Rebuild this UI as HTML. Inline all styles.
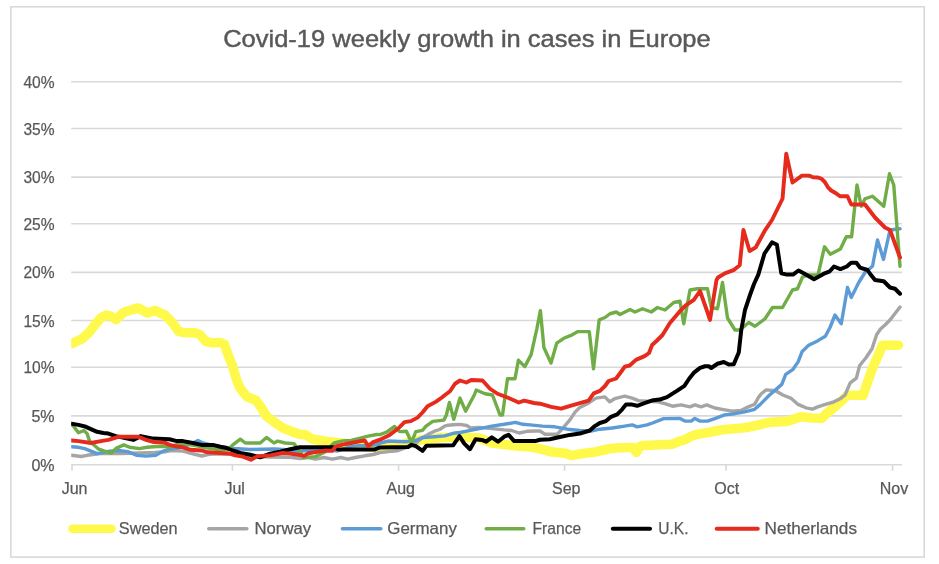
<!DOCTYPE html>
<html><head><meta charset="utf-8"><style>
html,body{margin:0;padding:0;background:#fff;width:939px;height:564px;overflow:hidden}
svg{display:block}
text{font-family:"Liberation Sans",sans-serif;fill:#595959;stroke:#595959;stroke-width:0.25px}
</style></head><body>
<svg width="939" height="564" viewBox="0 0 939 564">
<defs><filter id="b" x="-5%" y="-5%" width="110%" height="110%"><feGaussianBlur stdDeviation="0.75"/></filter></defs>
<rect x="0" y="0" width="939" height="564" fill="#fff"/>
<g filter="url(#b)">
<rect x="10.8" y="6.8" width="913.4" height="550.3" fill="#fff" stroke="#d9d9d9" stroke-width="1.6"/>
<text style="stroke-width:0.45px" x="223.2" y="47.2" font-size="24.5" textLength="487.5" lengthAdjust="spacingAndGlyphs">Covid-19 weekly growth in cases in Europe</text>
<g font-size="16.5">
<text x="54.6" y="470.80" text-anchor="end" textLength="23.2" lengthAdjust="spacingAndGlyphs">0%</text>
<text x="54.6" y="421.90" text-anchor="end" textLength="23.2" lengthAdjust="spacingAndGlyphs">5%</text>
<text x="54.6" y="373.20" text-anchor="end" textLength="31.2" lengthAdjust="spacingAndGlyphs">10%</text>
<text x="54.6" y="326.50" text-anchor="end" textLength="31.2" lengthAdjust="spacingAndGlyphs">15%</text>
<text x="54.6" y="278.40" text-anchor="end" textLength="31.2" lengthAdjust="spacingAndGlyphs">20%</text>
<text x="54.6" y="229.70" text-anchor="end" textLength="31.2" lengthAdjust="spacingAndGlyphs">25%</text>
<text x="54.6" y="183.10" text-anchor="end" textLength="31.2" lengthAdjust="spacingAndGlyphs">30%</text>
<text x="54.6" y="134.50" text-anchor="end" textLength="31.2" lengthAdjust="spacingAndGlyphs">35%</text>
<text x="54.6" y="87.70" text-anchor="end" textLength="31.2" lengthAdjust="spacingAndGlyphs">40%</text>
</g>
<g font-size="16">
<text x="74.6" y="493.9" text-anchor="middle">Jun</text>
<text x="234.7" y="493.9" text-anchor="middle">Jul</text>
<text x="400.7" y="493.9" text-anchor="middle">Aug</text>
<text x="566.2" y="493.9" text-anchor="middle">Sep</text>
<text x="726.7" y="493.9" text-anchor="middle">Oct</text>
<text x="894" y="493.9" text-anchor="middle">Nov</text>
</g>
<line x1="71.2" x2="902" y1="415.90" y2="415.90" stroke="#d9d9d9" stroke-width="1.6"/>
<line x1="71.2" x2="902" y1="367.20" y2="367.20" stroke="#d9d9d9" stroke-width="1.6"/>
<line x1="71.2" x2="902" y1="320.50" y2="320.50" stroke="#d9d9d9" stroke-width="1.6"/>
<line x1="71.2" x2="902" y1="272.40" y2="272.40" stroke="#d9d9d9" stroke-width="1.6"/>
<line x1="71.2" x2="902" y1="223.70" y2="223.70" stroke="#d9d9d9" stroke-width="1.6"/>
<line x1="71.2" x2="902" y1="177.10" y2="177.10" stroke="#d9d9d9" stroke-width="1.6"/>
<line x1="71.2" x2="902" y1="128.50" y2="128.50" stroke="#d9d9d9" stroke-width="1.6"/>
<line x1="71.2" x2="902" y1="81.70" y2="81.70" stroke="#d9d9d9" stroke-width="1.6"/>
<line x1="71.2" x2="902" y1="464.8" y2="464.8" stroke="#d9d9d9" stroke-width="1.6"/>
<line x1="72.0" x2="72.0" y1="464.8" y2="470.8" stroke="#d9d9d9" stroke-width="1.6"/>
<line x1="232.4" x2="232.4" y1="464.8" y2="470.8" stroke="#d9d9d9" stroke-width="1.6"/>
<line x1="398.6" x2="398.6" y1="464.8" y2="470.8" stroke="#d9d9d9" stroke-width="1.6"/>
<line x1="564.6" x2="564.6" y1="464.8" y2="470.8" stroke="#d9d9d9" stroke-width="1.6"/>
<line x1="726.0" x2="726.0" y1="464.8" y2="470.8" stroke="#d9d9d9" stroke-width="1.6"/>
<line x1="892.6" x2="892.6" y1="464.8" y2="470.8" stroke="#d9d9d9" stroke-width="1.6"/>

<clipPath id="pc"><rect x="71.2" y="60" width="860" height="420"/></clipPath>
<g clip-path="url(#pc)">
<polyline points="71,344 82,338.8 89.4,332.2 95.8,323.7 101.1,317.8 106.4,315.1 111,316.25 116,319.5 123.5,312.5 131,310 138.5,308 147.25,313 154.75,310.5 164.75,315 170,320 174.3,325.2 178.5,331.2 182.8,332.5 195.6,332.9 199.8,334.6 205.8,341.4 210.9,342.7 221.1,342.7 224.5,344.5 227.4,353 232.7,366.6 236.3,379 239.8,387.8 246.9,396.7 255.8,400.2 261.1,407.3 266.4,416.2 273.5,421.5 282.3,427.7 291.2,431.2 300,434.5 305,434.5 312,439 324,441 336,442.5 345,443.5 360,445.5 372,447.5 385,447.5 396,447 410,442 420,440 430,439 442,437.5 460,437 479,438 492,443 504,444.5 517,446 530,447 540,448.8 552,452 565.5,453.3 571.5,455.6 582.6,453.5 595,452 608,449 616,448 630,447.5 633,447.5 636.5,452.3 639,447 642.6,445.5 655,445 665,444.5 672,444.2 678.8,441.5 685.2,439.7 690,436.8 696,434.6 711,432 722,429.8 745,427.7 754,426 770,422.2 787,421.4 801,416.7 812,418 822,418.2 826,414 832,409 837.8,404 842.4,400 847.1,395.3 863,395.3 868,381 873,366.8 878,356 882.5,345.2 898.5,345.2" fill="none" stroke="#fff94c" stroke-width="9.6" stroke-linejoin="round" stroke-linecap="round"/>
<polyline points="71.6,455.3 81,456.5 87.2,455.3 100,453.5 120,453.5 140.8,453 155,452.5 165.7,451.7 171.9,450.5 183,451.1 192,453.5 201.7,456 208,454.5 215,453.8 230,454.2 250,456.5 270,457 290.2,457.3 300,458.5 308.5,457.5 315.3,459.2 323.9,457.5 332.4,459.2 340.9,457.5 347.7,459.2 355.4,457.5 364.7,455.8 373.3,454.5 380,452.5 388.5,451.6 397,450.8 405,448 415,444 422,438 427.7,434.6 434.5,431.2 439.6,429.5 444.7,426.1 448.1,425.2 453.3,424.8 460,424.4 466.8,425.5 470.6,428 479.3,427.4 491.8,428.6 504.2,429.9 511.7,430.5 519.2,433 527,431.3 535,431 540,431 545,434.2 557.4,434.2 562.4,428.6 569.9,419.9 574.9,412.4 579.8,407.4 587.3,403.7 596,398.1 604.8,396.9 609.7,401.8 614.7,398.7 624.7,396.2 632.2,398.1 638.4,400.6 647,401.2 657.5,401.8 664.9,403.7 672.4,406.2 681.1,404.9 689.9,406.8 694.8,404.9 701.1,406.8 706.7,404.9 714.8,408 722.2,409.3 732.2,411.2 740.9,410.5 747.2,407.4 754.6,404.3 758.4,397.5 761.25,393.75 766.2,389.9 775.6,390.7 782.8,395 791.3,398.4 798.1,404.4 805.8,407.8 812.6,409.1 817.7,406.9 825.4,404.4 833.9,401.8 840.7,398.4 845,395 850.2,382.9 856.4,378.2 859.5,365.8 865.8,358 872,348.7 876.6,334.7 880.5,329 885,325 890,320 900,307" fill="none" stroke="#a5a5a5" stroke-width="3.4" stroke-linejoin="round" stroke-linecap="round"/>
<polyline points="71.6,446.7 78.5,447.3 84.7,448.6 90.9,451.1 97.1,453.6 103.4,452.3 109.6,451.1 118.3,450.5 128.3,451.7 137,455.4 145.7,456.1 155.7,455.4 163.2,451.1 170,449 183,447 193,443 198,440.5 203,443 215,446 234,448.5 250,449.5 275,449 290,450 295,451.7 308.5,450.2 315.3,450.2 330,450 337.5,451 351.1,446.4 359.6,445.6 368.1,445.6 376.7,444.7 380,443.1 388.5,441 405.6,441.8 414.1,441 422.6,437.6 434.5,436.7 444.7,435.9 453.3,433.3 460,432.5 466.8,431.1 479.3,428.6 491.8,426.1 504.2,424.3 515.4,422.4 522.9,424.3 530,424.9 542.5,426.1 554.9,426.8 567.4,429.2 579.8,430.5 591,431.1 599.8,429.2 612.2,428 624.7,426.1 632.2,424.9 637.2,426.8 647,424.9 652.5,423 663.7,418.6 679.9,418.4 684.9,421.1 691.1,421.1 694.8,418.4 699.8,421.1 707.3,421.1 714.8,418.6 724.7,414.9 734.7,413.7 744.7,411.8 754.6,409.3 760,404.6 769.3,395.3 781.8,384.4 785.7,374.3 792.7,369.7 798.1,361.9 802,351.8 808.2,345.6 817.5,340.9 825.3,336.2 830,327.5 835,315 841.25,323.75 847.5,287.5 851.25,297.5 858.75,282.5 865,272.5 872.5,266.25 877.5,240 883.5,259.5 890,230 900,228.75" fill="none" stroke="#5b9bd5" stroke-width="3.4" stroke-linejoin="round" stroke-linecap="round"/>
<polyline points="71.6,424.5 73.8,426.6 78.5,432.8 84,430.5 87.1,433.6 89.4,440.6 93.3,444.5 98.8,449.2 105.9,451.5 111.3,453.1 116,448.4 123.8,444.9 129.5,447.3 139.5,448.6 147,447.3 153.2,446.7 163.2,446.3 169.4,447.3 178.1,444.2 183,443.6 195.5,445.5 207.9,448 220.4,449.8 227.9,449.8 232.8,444.9 240.3,439.2 245.3,443 260.2,443 266.5,437.4 274,443 277.7,441.1 285.2,443 293.9,443.6 300,451.5 303.4,457.5 315.3,456.6 325,452 334,443 342.6,440.9 351.1,440.4 361.3,437.9 368.1,436.2 376.7,434.5 380,434.6 386.8,432 394.5,426.5 399.6,431.6 406.4,431.2 411.5,442.3 415.8,431.6 422.6,430.3 426,426.1 432.8,421.4 443.9,420.1 446.4,415 449.4,402.5 453.8,419.3 460,398.1 465.6,411.2 474.3,395 476.25,390 485,393.75 492.5,395 500,415 502.5,415 507.5,378.75 515,378.75 518.4,360.2 524.8,366.6 531.1,354.6 536.8,329 540.4,310.6 543.9,347.5 551,363.1 556.7,343.2 563.8,338.3 570.9,335.4 577.9,331.6 589.3,331.6 593.5,368.8 599.2,319.8 605,317.5 610,313.75 616.25,312 620,314.5 630,309.5 635,312 642.5,308.75 651.25,312 657.5,307.5 665,310 673.75,302.5 680,301.25 683.75,323.75 690,290 697.5,288.75 707.5,288.75 711.25,307.5 717.5,308.75 722.5,282.5 727.5,318 735,330 740,330 748.75,322.5 755,326.25 765,318.75 772.5,307.5 782.5,307.5 792.5,290 797.5,288.75 802.5,277 808.5,275 818,275 824.5,246.8 830.3,254.3 840.4,248.9 846.3,236.7 851.6,236.7 857,185 861.25,206.25 865,198.75 872.5,196.25 883.75,206.25 889.5,173.75 893.75,185 900,266.25" fill="none" stroke="#70ad47" stroke-width="3.4" stroke-linejoin="round" stroke-linecap="round"/>
<polyline points="71.6,423.7 78.5,424.9 85.9,426.8 97.1,431.8 103.4,433 108.4,433.6 115.8,436.1 133.3,439.9 140.8,436.1 153.2,438.6 169.4,439.2 176.9,441.1 183,441.1 193,443 201.7,444.9 212.9,444.9 220.4,446.7 226.6,448 232.8,450.5 240.3,453 250.3,454.8 260.2,457.3 270.2,453.6 280.2,451.7 290.2,449.2 300,447.3 333.2,447.3 338.3,449.4 375,449.4 380,447.4 408.1,447 411.5,444.8 415.8,446.1 422.6,450.8 426.4,445.7 453.3,445.2 459.4,436.1 464.3,443.6 470,449.2 475.6,439.2 481.8,439.9 486.2,441.7 491.8,437.4 498,441.7 504.2,436.7 508.6,434.9 514.2,441.1 535,441.1 540,439.8 549.9,439.2 558.7,437.3 569.9,434.9 579.8,433.6 589.8,430.5 594.8,426.1 599.8,423 606,421.1 611,416.8 617.2,414.3 622.2,409.3 626,404.6 632.2,404.6 637.2,405.8 645.9,402.7 653.3,400.2 659.5,399.6 667,397.1 676.9,390.9 684.4,385.9 689.3,378.5 694.3,372.3 700,367.9 705,366.25 708.75,366.25 711.25,368 717.5,363.75 723.75,362 728.75,364.5 733.75,364.25 738.75,352.5 741.25,330 745,310 750,295 754,284 758.3,274.6 764.5,253.5 772,242.3 776.9,244.8 781.3,273.3 786.8,274.6 793,274.6 798.5,270.5 805,274 814,279.3 823.4,273.9 829.8,271.3 834,266.5 840.4,269.1 846.8,266.5 851.1,262.8 856.4,262.8 860,267.6 867.5,270 870,273.75 875,280 883.75,281.25 890,287.5 895,288.75 900,293.75" fill="none" stroke="#000000" stroke-width="4.0" stroke-linejoin="round" stroke-linecap="round"/>
<polyline points="71.6,440.5 78.5,441.1 90.9,443 100.9,441.1 108.4,439.9 118.3,436.8 128.3,436.8 138.3,436.8 146,439.9 154,442 164.6,442.6 170.5,445.2 177,446.5 183,447.3 190.5,449.8 201.7,450.5 207.9,452.3 220.4,453 230.3,453.6 235.3,455.4 242.8,456.7 250.9,459.8 257.8,456.1 270.2,455.4 282.7,453 290.2,453.6 300,455 304.3,455.8 308.5,453.2 317,451.9 325.6,450.7 332.4,450.7 335.8,446.4 342.6,444.7 351.1,443 359.6,441.3 364.7,440.5 368.3,446.1 372.6,442.4 380,439.7 389.6,434.9 398.2,428.5 404.5,422.1 410.9,421.1 417.5,417.6 422.5,412.5 427.5,406.25 435.7,401.9 441.9,397.5 445,395 450,391.25 455,383.75 460,380.5 466.25,382.5 471.25,380 482.5,380.5 490,388.75 497.5,393.75 507.5,397.5 518.75,402.5 524.2,400.6 534,403 540,403.7 551.2,406.8 561.1,408.7 571.1,405.6 579.8,403.1 588.6,400.6 593.7,393.4 599.9,390.9 605,386 608.6,381 616.1,378.5 621,372 624.8,366.7 629.7,365.5 635.9,359.9 644.6,356.1 649,353 652.1,345 657,340.5 662.5,335 669.9,323 679.5,311.7 685.8,305.3 693.8,299.8 700,291 706.25,308.75 710,320 716.5,280 718,277.5 724.8,273.3 733.5,270.2 739.7,265.3 743.4,229.9 749.6,251 755.8,247.3 764.5,231.2 772,220 782.5,198.75 786.25,153.75 792.5,182.5 802,175.6 809,175.6 813,177.2 818,177.5 821.6,178.8 824.8,182 828,187.3 831.2,190.5 835,192.7 840,196.25 847.5,196.25 851.25,204.5 865,204.5 875,217.5 885,227.5 890,230 900,257.5" fill="none" stroke="#e62a1e" stroke-width="3.9" stroke-linejoin="round" stroke-linecap="round"/>
</g>
<g font-size="16.5">
<line x1="72.5" x2="111.5" y1="528.8" y2="528.8" stroke="#fff94c" stroke-width="8.5" stroke-linecap="round"/>
<text x="118.8" y="533.6" textLength="58.8" lengthAdjust="spacingAndGlyphs">Sweden</text>
<line x1="208.7" x2="246.9" y1="528.8" y2="528.8" stroke="#a5a5a5" stroke-width="3.4" stroke-linecap="round"/>
<text x="254.5" y="533.6" textLength="56.6" lengthAdjust="spacingAndGlyphs">Norway</text>
<line x1="342.4" x2="380.8" y1="528.8" y2="528.8" stroke="#5b9bd5" stroke-width="3.4" stroke-linecap="round"/>
<text x="387.3" y="533.6" textLength="69.6" lengthAdjust="spacingAndGlyphs">Germany</text>
<line x1="486.2" x2="523.8" y1="528.8" y2="528.8" stroke="#70ad47" stroke-width="3.4" stroke-linecap="round"/>
<text x="532.6" y="533.6" textLength="48.5" lengthAdjust="spacingAndGlyphs">France</text>
<line x1="612.8" x2="650.0" y1="528.8" y2="528.8" stroke="#000000" stroke-width="4.0" stroke-linecap="round"/>
<text x="658.3" y="533.6" textLength="30.2" lengthAdjust="spacingAndGlyphs">U.K.</text>
<line x1="716.7" x2="757.8" y1="528.8" y2="528.8" stroke="#e62a1e" stroke-width="3.9" stroke-linecap="round"/>
<text x="764.5" y="533.6" textLength="92.5" lengthAdjust="spacingAndGlyphs">Netherlands</text>
</g>
</g>
</svg>
</body></html>
